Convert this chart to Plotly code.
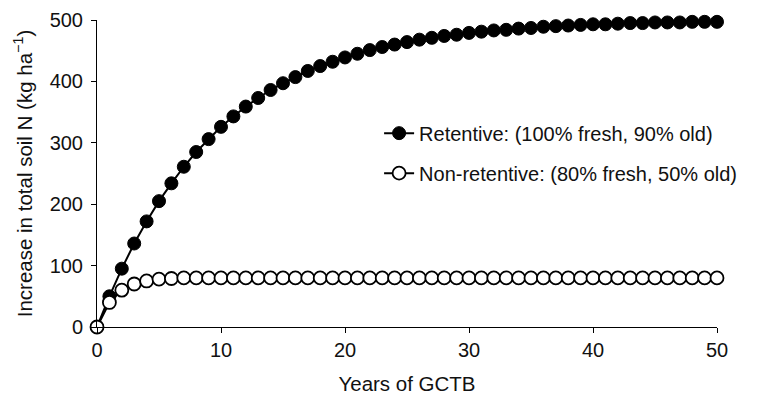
import plotly.graph_objects as go

years = list(range(0, 51))
retentive = [0, 50, 95, 136, 172, 205, 234, 261, 285, 306, 326, 343, 359, 373, 386, 397,
             407, 417, 425, 432, 439, 445, 451, 456, 460, 464, 468, 471, 474, 476, 479,
             481, 483, 484, 486, 487, 489, 490, 491, 492, 493, 493, 494, 495, 495, 496,
             496, 496, 497, 497, 497]
non_retentive = [0, 40, 60, 70, 75, 78, 79, 80, 80, 80, 80, 80, 80, 80, 80, 80, 80, 80,
                 80, 80, 80, 80, 80, 80, 80, 80, 80, 80, 80, 80, 80, 80, 80, 80, 80, 80,
                 80, 80, 80, 80, 80, 80, 80, 80, 80, 80, 80, 80, 80, 80, 80]

FONT = "Liberation Sans, Arial, Helvetica, sans-serif"

fig = go.Figure()
fig.add_trace(go.Scatter(
    x=years, y=retentive, mode="lines+markers",
    name="Retentive: (100% fresh, 90% old)", legendgroup="a",
    line=dict(color="black", width=2),
    marker=dict(symbol="circle", size=13, color="black", line=dict(color="black", width=1)),
    cliponaxis=False,
))
fig.add_trace(go.Scatter(
    x=years, y=non_retentive, mode="lines+markers",
    name="Non-retentive: (80% fresh, 50% old)", legendgroup="b",
    line=dict(color="black", width=2),
    marker=dict(symbol="circle", size=13, color="white", line=dict(color="black", width=1.8)),
    cliponaxis=False,
))

fig.update_layout(
    width=759, height=395,
    margin=dict(l=97, r=42, t=20, b=68),
    paper_bgcolor="white", plot_bgcolor="white",
    font=dict(family=FONT, size=20, color="#111111"),
    showlegend=True,
    legend=dict(x=0.455, y=0.695, xanchor="left", yanchor="top",
                bgcolor="rgba(0,0,0,0)", font=dict(size=20),
                tracegroupgap=11, itemwidth=30),
    xaxis=dict(range=[0, 50], tickvals=[0, 10, 20, 30, 40, 50],
               showgrid=False, zeroline=False, showline=True, linecolor="black",
               linewidth=1, ticks="outside", ticklen=5, tickcolor="black",
               tickfont=dict(size=20), automargin=False,
               title=dict(text="Years of GCTB", standoff=17, font=dict(size=20.5))),
    yaxis=dict(range=[0, 500], tickvals=[0, 100, 200, 300, 400, 500],
               showgrid=False, zeroline=False, showline=True, linecolor="black",
               linewidth=1, ticks="outside", ticklen=5, tickcolor="black",
               tickfont=dict(size=20), ticklabelstandoff=4, automargin=False,
               title=dict(text="Increase in total soil N (kg ha<sup>−1</sup>)",
                          standoff=11, font=dict(size=20.5))),
)

fig.write_html("out.html")
